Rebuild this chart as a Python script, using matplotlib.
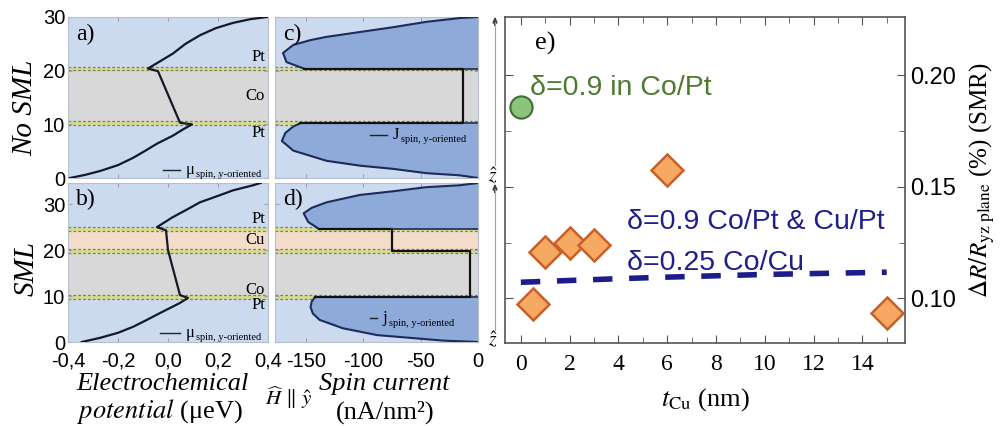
import numpy as np
import matplotlib
matplotlib.use('Agg')
import matplotlib.pyplot as plt
from matplotlib.ticker import FuncFormatter, MultipleLocator

plt.rcParams['font.family'] = 'Liberation Sans'
plt.rcParams['mathtext.fontset'] = 'stix'
plt.rcParams['lines.scale_dashes'] = False
plt.rcParams['axes.unicode_minus'] = False

# ---- data ----
# layer stacks (bottom, top, material)
layers_a = [(0, 10.2, 'Pt'), (10.2, 20.4, 'Co'), (20.4, 30, 'Pt')]
layers_b = [(0, 9.8, 'Pt'), (9.8, 19.8, 'Co'), (19.8, 24.6, 'Cu'), (24.6, 34.6, 'Pt')]

# panel a: electrochemical potential (ueV) vs z (nm)
mu_a_z = [0, 0.6, 1.3, 2.4, 3.75, 5.1, 6.4, 7.9, 9.0, 10.0, 10.3, 19.9, 20.4,
          21.8, 23.2, 25.0, 26.6, 27.9, 28.9, 29.6, 30]
mu_a = [-0.392, -0.33, -0.272, -0.2, -0.14, -0.09, -0.044, 0.02, 0.058, 0.096,
        0.048, -0.04, -0.08, -0.03, 0.02, 0.07, 0.128, 0.19, 0.26, 0.33, 0.396]

# panel b
mu_b_z = [0, 0.9, 2.0, 3.3, 4.8, 6.3, 8.5, 9.6, 10.2, 20.0, 24.3, 25.0,
          26.0, 27.2, 28.8, 30.4, 31.8, 33.0, 34.1, 34.6]
mu_b = [-0.345, -0.272, -0.2, -0.14, -0.085, -0.032, 0.048, 0.08, 0.048, 0.0,
        -0.008, -0.044, -0.015, 0.02, 0.075, 0.128, 0.2, 0.26, 0.34, 0.37]

# panel c: spin current (nA/nm^2)
c_low_z = [0, 0.5, 0.9, 1.7, 2.3, 3.2, 5.1, 6.9, 8.4, 9.6, 10.2]
c_low_j = [0, -16, -45, -74, -103, -132, -161, -171, -168, -161, -155]
c_mid_z = [10.2, 10.2, 20.4, 20.4]
c_mid_j = [-155, -13, -13, -152]
c_top_z = [20.4, 21.6, 23.3, 24.8, 25.7, 26.3, 27.2, 28.1, 29.1, 29.8, 30]
c_top_j = [-152, -167, -170, -161, -146, -132, -103, -74, -45, -16, 0]

# panel d
d_low_z = [0, 0.3, 0.9, 1.5, 3.0, 4.8, 6.2, 7.6, 8.8, 9.8]
d_low_j = [0, -30, -59, -88, -118, -138, -144, -146, -145, -142]
d_mid_z = [9.8, 9.8, 19.8, 19.8, 24.6, 24.6]
d_mid_j = [-142, -7, -7, -75, -75, -139]
d_top_z = [24.6, 25.0, 26.1, 28.0, 29.2, 30.4, 32.0, 32.8, 33.7, 34.1, 34.6]
d_top_j = [-139, -141, -148, -152, -145, -132, -103, -74, -45, -16, 0]

# panel e: SMR vs Cu thickness
t_co_pt = [0]
smr_co_pt = [0.1857]
t_cu = [0.5, 1, 2, 3, 6, 15]
smr_cu = [0.0973, 0.1206, 0.1247, 0.1238, 0.1574, 0.0933]
model_t = [0, 2, 4, 6, 8, 10, 12, 15]
model_smr = [0.1072, 0.1080, 0.1088, 0.1095, 0.1101, 0.1107, 0.1111, 0.1117]

# ---- styling ----
layer_col = {'Pt': '#ccdaf0', 'Co': '#d8d8d8', 'Cu': '#f4dccb'}
fill_col = '#8eaad9'
serif = 'Liberation Serif'

W, H = 1001, 426
fig = plt.figure(figsize=(W / 100, H / 100), dpi=100)


def box(l, t, r, b):
    return [l / W, 1 - b / H, (r - l) / W, (b - t) / H]


ax_a = fig.add_axes(box(68, 17, 268, 178))
ax_b = fig.add_axes(box(68, 183, 268, 342))
ax_c = fig.add_axes(box(275, 17, 478, 178))
ax_d = fig.add_axes(box(275, 183, 478, 342))
ax_e = fig.add_axes(box(505, 17, 905, 343))


def draw_layers(ax, layers):
    for lo, hi, mat in layers:
        ax.axhspan(lo, hi, color=layer_col[mat], lw=0, zorder=0)
    for lo, hi, mat in layers[1:]:
        ax.axhline(lo, color='#d6dc8a', lw=2.2, zorder=1)
        ax.axhline(lo + 0.35, color='#7a7a7a', lw=0.9, ls=(0, (2, 1.5)), zorder=1)
        ax.axhline(lo - 0.35, color='#7a7a7a', lw=0.9, ls=(0, (2, 1.5)), zorder=1)


def frame(ax):
    for s in ax.spines.values():
        s.set_color('#b8bfcc')
        s.set_linewidth(0.8)
    ax.tick_params(direction='in', length=3, color='#9aa0aa', labelsize=14.5,
                   top=True, right=True, pad=2)


for ax, layers, top in [(ax_a, layers_a, 30), (ax_b, layers_b, 34.6),
                        (ax_c, layers_a, 30), (ax_d, layers_b, 34.6)]:
    draw_layers(ax, layers)
    frame(ax)
    ax.set_ylim(0, top)
    ax.set_yticks([0, 10, 20, 30])

# panels a, b
ax_a.plot(mu_a, mu_a_z, color='#15182a', lw=1.6, zorder=3)
ax_b.plot(mu_b, mu_b_z, color='#15182a', lw=1.6, zorder=3)
for ax in (ax_a, ax_b):
    ax.set_xlim(-0.4, 0.4)
    ax.set_xticks([-0.4, -0.2, 0.0, 0.2, 0.4])
ax_a.tick_params(labelbottom=False)
ax_b.xaxis.set_major_formatter(FuncFormatter(lambda v, p: f'{v:.1f}'.replace('.', ',')))
ax_b.tick_params(axis='x', pad=7)

# panels c, d
for ax, lz, lj, mz, mj, tz, tj in [
        (ax_c, c_low_z, c_low_j, c_mid_z, c_mid_j, c_top_z, c_top_j),
        (ax_d, d_low_z, d_low_j, d_mid_z, d_mid_j, d_top_z, d_top_j)]:
    ax.fill_betweenx(lz, lj, 0, color=fill_col, lw=0, zorder=2)
    ax.fill_betweenx(tz, tj, 0, color=fill_col, lw=0, zorder=2)
    ax.plot(lj, lz, color='#1c2b5a', lw=1.5, zorder=3)
    ax.plot(tj, tz, color='#1c2b5a', lw=1.5, zorder=3)
    ax.plot([lj[-1], 0], [lz[-1], lz[-1]], color='#1c2b5a', lw=1.2, zorder=3)
    ax.plot([tj[0], 0], [tz[0], tz[0]], color='#1c2b5a', lw=1.2, zorder=3)
    ax.plot(mj, mz, color='#111111', lw=1.6, zorder=4)
    ax.set_xlim(-177, 0)
    ax.set_xticks([-150, -100, -50, 0])
    ax.tick_params(labelleft=False)
ax_c.tick_params(labelbottom=False)
ax_d.tick_params(axis='x', pad=7)

# panel letters and layer names
for ax, lab in [(ax_a, 'a)'), (ax_b, 'b)'), (ax_c, 'c)'), (ax_d, 'd)')]:
    ax.text(0.04, 0.96, lab, transform=ax.transAxes, ha='left', va='top',
            family=serif, fontsize=17, zorder=5)
for ax, layers in [(ax_a, layers_a), (ax_b, layers_b)]:
    for lo, hi, mat in layers:
        if mat == 'Pt' and lo == 0:
            y = hi - 1.8
        elif mat == 'Pt':
            y = lo + 2.2
        else:
            y = (lo + hi) / 2 if mat == 'Cu' or len(layers) == 3 else lo + 1.5
        ax.text(0.985, y, mat, transform=ax.get_yaxis_transform(), ha='right',
                va='center', family=serif, fontsize=12, zorder=5)


# small legends
def mini_legend(ax, x0, x1, y, sym, sub):
    ax.plot([x0, x1], [y, y], transform=ax.transAxes, color='#222222', lw=1, zorder=5)
    t = ax.text(x1 + 0.03, y, sym, transform=ax.transAxes, ha='left', va='center',
                family=serif, fontsize=12, zorder=5)
    ax.annotate(sub, xy=(1, 0), xycoords=t, xytext=(1, -1), textcoords='offset points',
                ha='left', va='bottom', family=serif, fontsize=7.5, zorder=5)


mini_legend(ax_a, 0.475, 0.56, 0.05, 'μ', 'spin, y-oriented')
mini_legend(ax_b, 0.46, 0.56, 0.057, 'μ', 'spin, y-oriented')
mini_legend(ax_c, 0.468, 0.55, 0.267, 'J', 'spin, y-oriented')
mini_legend(ax_d, 0.468, 0.50, 0.15, 'j', 'spin, y-oriented')

# z-hat arrows
for ytop, ybot, ylab in [(22, 165, 176), (189, 330, 340)]:
    fig.add_artist(plt.Line2D([495 / W, 495 / W], [1 - ytop / H, 1 - ybot / H],
                              color='#a0a0a0', lw=0.8))
    fig.patches.append(matplotlib.patches.FancyArrow(
        495 / W, 1 - (ytop + 4) / H, 0, 3 / H, width=0.0, head_width=4 / W,
        head_length=5 / H, color='#404040', transform=fig.transFigure, figure=fig))
    fig.text(493 / W, 1 - ylab / H, r'$\hat{z}$', ha='center', va='center', fontsize=14)

# axis labels of a-d
fig.text(25 / W, 1 - 108 / H, 'No SML', rotation=90, ha='center', va='center',
         family=serif, style='italic', fontsize=21)
fig.text(27 / W, 1 - 268 / H, 'SML', rotation=90, ha='center', va='center',
         family=serif, style='italic', fontsize=21)
fig.text(162 / W, 1 - 384 / H, 'Electrochemical', ha='center', va='center',
         family=serif, style='italic', fontsize=19)
fig.text(160 / W, 1 - 412 / H, r'$\mathit{potential}$ (μeV)', ha='center', va='center',
         family=serif, fontsize=19)
fig.text(289 / W, 1 - 398 / H, r'$\widehat{H}\ \Vert\ \hat{y}$', ha='center', va='center',
         fontsize=15)
fig.text(384 / W, 1 - 384 / H, 'Spin current', ha='center', va='center',
         family=serif, style='italic', fontsize=19)
fig.text(385 / W, 1 - 412 / H, '(nA/nm²)', ha='center', va='center',
         family=serif, fontsize=19)

# panel e
ax_e.plot(model_t, model_smr, color='#1c1c8a', lw=4, dashes=(14, 12), zorder=2)
ax_e.plot(t_co_pt, smr_co_pt, 'o', ms=16, mfc='#8cc47e', mec='#3f6e32', mew=1.5, zorder=3)
ax_e.plot(t_cu, smr_cu, 'D', ms=16, mfc='#f6a962', mec='#c8602a', mew=1.8, zorder=3)
ax_e.set_xlim(-0.65, 15.75)
ax_e.set_ylim(0.080, 0.226)
ax_e.xaxis.set_major_locator(MultipleLocator(2))
ax_e.xaxis.set_minor_locator(MultipleLocator(1))
ax_e.set_yticks([0.10, 0.15, 0.20])
ax_e.set_yticks([0.125, 0.175], minor=True)
ax_e.yaxis.set_major_formatter(FuncFormatter(lambda v, p: f'{v:.2f}'))
ax_e.tick_params(which='both', direction='in', top=True, right=True, left=True,
                 labelleft=False, labelright=True, color='#555555')
ax_e.tick_params(which='major', length=6)
ax_e.tick_params(which='minor', length=4)
ax_e.tick_params(axis='y', labelsize=17, pad=4)
ax_e.tick_params(axis='x', labelsize=17, labelfontfamily=serif, pad=8)
for s in ax_e.spines.values():
    s.set_color('#555555')
    s.set_linewidth(1.2)
ax_e.text(0.075, 0.955, 'e)', transform=ax_e.transAxes, ha='left', va='top',
          family=serif, fontsize=19)
ax_e.text(0.37, 0.194, 'δ=0.9 in Co/Pt', color='#4d7a2e', fontsize=20.5, va='center')
ax_e.text(4.35, 0.134, 'δ=0.9 Co/Pt & Cu/Pt', color='#1e1e8c', fontsize=20.5, va='center')
ax_e.text(4.35, 0.1160, 'δ=0.25 Co/Cu', color='#1e1e8c', fontsize=20.5, va='center')
ax_e.set_xlabel(r'$t_{\mathrm{Cu}}$ (nm)', family=serif, fontsize=19, labelpad=8)
ax_e.yaxis.set_label_position('right')
ax_e.set_ylabel(r'$\Delta R/R_{\mathrm{yz\ plane}}$ (%) (SMR)', family=serif,
                fontsize=18, labelpad=8)

fig.savefig('out.png', dpi=100)
